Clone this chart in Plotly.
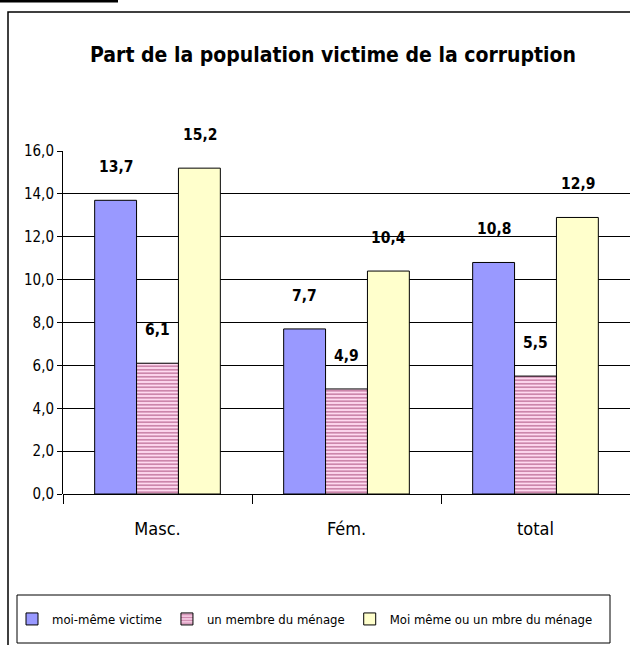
import plotly.graph_objects as go

categories = ["Masc.", "Fém.", "total"]
series_names = ["moi-même victime", "un membre du ménage", "Moi même ou un mbre du ménage"]
moi_meme = [13.7, 7.7, 10.8]
membre = [6.1, 4.9, 5.5]
moi_ou_membre = [15.2, 10.4, 12.9]
y_ticks = [0, 2, 4, 6, 8, 10, 12, 14, 16]

FONT = "Liberation Sans Narrow, Arial Narrow, DejaVu Sans Condensed, Liberation Sans, Arial"

W, H = 630, 645
L, R, T, B = 63, 0, 151, 151
pw, ph = W - L - R, H - T - B

def px_x(x):
    return (x - L) / pw

def px_y(y):
    return (H - B - y) / ph

fig = go.Figure()
fig.add_trace(go.Bar(
    x=categories, y=moi_meme, name=series_names[0],
    marker=dict(color="#9999FF", line=dict(color="#000000", width=1)),
))
fig.add_trace(go.Bar(
    x=categories, y=membre, name=series_names[1],
    marker=dict(color="#FFCCEE", line=dict(color="#000000", width=1),
                pattern=dict(shape="-", fgcolor="#993366", bgcolor="#FFD9F0",
                             size=3.5, solidity=0.5)),
))
fig.add_trace(go.Bar(
    x=categories, y=moi_ou_membre, name=series_names[2],
    marker=dict(color="#FFFFCC", line=dict(color="#000000", width=1)),
))

annotations = []
bar_px = 42
for si, vals in enumerate([moi_meme, membre, moi_ou_membre]):
    for c, v in zip(categories, vals):
        annotations.append(dict(
            x=c, y=v, xref="x", yref="y", text=f"<b>{v:.1f}</b>".replace(".", ","),
            showarrow=False, xshift=(si - 1) * bar_px, yshift=33, yanchor="middle",
            font=dict(family=FONT, size=15.5, color="#000000"),
        ))

shapes = [
    dict(type="rect", xref="paper", yref="paper",
         x0=px_x(8), x1=px_x(W + 20), y0=px_y(H + 20), y1=px_y(12),
         line=dict(color="#000000", width=1.5), fillcolor="rgba(0,0,0,0)", layer="below"),
    dict(type="line", xref="paper", yref="paper",
         x0=px_x(0), x1=px_x(118), y0=px_y(1), y1=px_y(1),
         line=dict(color="#000000", width=3)),
    dict(type="rect", xref="paper", yref="paper",
         x0=px_x(17), x1=px_x(610), y0=px_y(643), y1=px_y(595),
         line=dict(color="#000000", width=1), fillcolor="rgba(0,0,0,0)"),
]

fig.update_layout(
    width=W, height=H,
    margin=dict(l=L, r=R, t=T, b=B, autoexpand=False),
    paper_bgcolor="#FFFFFF", plot_bgcolor="#FFFFFF",
    separators=", ",
    barmode="group", bargap=0.335, bargroupgap=0,
    title=dict(text="<b>Part de la population victime de la corruption</b>",
               x=333 / W, xanchor="center", xref="container",
               y=1 - 55 / H, yanchor="middle", yref="container",
               font=dict(family=FONT, size=21, color="#000000")),
    font=dict(family=FONT, color="#000000"),
    xaxis=dict(showline=False, ticks="outside", tickson="boundaries", ticklen=9,
               tickcolor="#000000", tickwidth=1, showgrid=False,
               tickfont=dict(family=FONT, size=18), ticklabelstandoff=22),
    yaxis=dict(range=[0, 16], tickvals=y_ticks, tickformat=".1f",
               showgrid=True, gridcolor="#000000", gridwidth=1,
               showline=True, linecolor="#000000", linewidth=1,
               ticks="outside", ticklen=5, tickcolor="#000000",
               zeroline=True, zerolinecolor="#000000", zerolinewidth=1,
               tickfont=dict(family=FONT, size=15)),
    legend=dict(orientation="h", x=px_x(12), xanchor="left", y=px_y(619), yanchor="middle",
                borderwidth=0, bgcolor="rgba(0,0,0,0)",
                font=dict(family=FONT, size=13), itemwidth=30,
                traceorder="normal"),
    annotations=annotations,
    shapes=shapes,
)

fig.write_html("out.html", post_script="document.body.style.margin='0';",
               config={"displayModeBar": False})
